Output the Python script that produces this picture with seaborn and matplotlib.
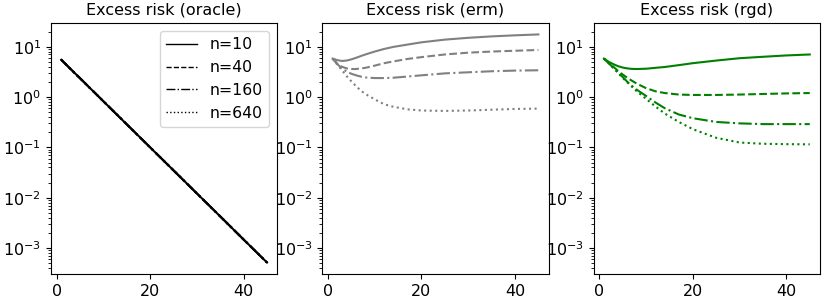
import numpy as np
import pandas as pd
import matplotlib
matplotlib.use("Agg")
import matplotlib.pyplot as plt
from matplotlib.lines import Line2D
import seaborn as sns

steps = [1, 2, 3, 4, 5, 6, 7, 8, 10, 12, 14, 17, 20, 25, 30, 35, 40, 45]
sample_sizes = ["n=10", "n=40", "n=160", "n=640"]
methods = ["oracle", "erm", "rgd"]

oracle_curve = [5.5, 4.45, 3.6, 2.92, 2.37, 1.92, 1.55, 1.26, 0.825, 0.541, 0.355,
                0.189, 0.1003, 0.035, 0.0122, 0.00426, 0.00148, 0.000518]

erm_n10 = [5.8, 5.4, 5.2, 5.3, 5.6, 6.0, 6.5, 7.0, 8.0, 9.0, 9.9, 11.0, 12.2, 13.8, 15.0, 16.0, 16.8, 17.5]
erm_n40 = [5.8, 4.6, 4.0, 3.7, 3.6, 3.6, 3.7, 3.8, 4.2, 4.7, 5.1, 5.7, 6.2, 7.0, 7.6, 8.0, 8.3, 8.6]
erm_n160 = [5.8, 4.5, 3.7, 3.2, 2.9, 2.7, 2.55, 2.45, 2.38, 2.38, 2.42, 2.55, 2.7, 2.95, 3.1, 3.25, 3.35, 3.4]
erm_n640 = [5.8, 4.4, 3.4, 2.6, 2.05, 1.65, 1.35, 1.15, 0.9, 0.72, 0.64, 0.57, 0.54, 0.53, 0.54, 0.56, 0.58, 0.59]

rgd_n10 = [5.8, 5.0, 4.5, 4.1, 3.85, 3.7, 3.62, 3.6, 3.65, 3.8, 3.95, 4.3, 4.7, 5.3, 5.9, 6.3, 6.7, 7.0]
rgd_n40 = [5.8, 4.8, 4.0, 3.3, 2.8, 2.4, 2.1, 1.85, 1.5, 1.3, 1.2, 1.12, 1.1, 1.1, 1.12, 1.15, 1.18, 1.2]
rgd_n160 = [5.8, 4.7, 3.8, 3.1, 2.5, 2.0, 1.65, 1.4, 1.05, 0.78, 0.6, 0.45, 0.38, 0.32, 0.30, 0.29, 0.29, 0.29]
rgd_n640 = [5.8, 4.7, 3.8, 3.0, 2.4, 1.95, 1.6, 1.3, 0.92, 0.65, 0.47, 0.32, 0.23, 0.155, 0.125, 0.118, 0.116, 0.115]

series = {
    "oracle": [oracle_curve, oracle_curve, oracle_curve, oracle_curve],
    "erm": [erm_n10, erm_n40, erm_n160, erm_n640],
    "rgd": [rgd_n10, rgd_n40, rgd_n160, rgd_n640],
}
colors = {"oracle": "black", "erm": "gray", "rgd": "green"}
linestyles = ["-", "--", "-.", ":"]

fig, axes = plt.subplots(1, 3, figsize=(8.3, 3.03), dpi=100, sharey=True)
fig.subplots_adjust(left=0.0614, right=0.988, bottom=0.096, top=0.924, wspace=0.199)

for ax, m in zip(axes, methods):
    for label, vals, ls in zip(sample_sizes, series[m], linestyles):
        df = pd.DataFrame({"step": steps, "risk": vals})
        sns.lineplot(data=df, x="step", y="risk", ax=ax, color=colors[m],
                     linestyle=ls, linewidth=1.5, legend=False)
    ax.set_yscale("log")
    ax.set_title(f"Excess risk ({m})", fontsize=11.5)
    ax.set_xlabel("")
    ax.set_ylabel("")
    ax.set_xticks([0, 20, 40])
    ax.tick_params(axis="both", labelsize=11.5, labelleft=True)

handles = [Line2D([], [], color="black", linestyle=ls, linewidth=1.0) for ls in linestyles]
axes[0].legend(handles, sample_sizes, loc="upper right", fontsize=11.3)

fig.savefig("out.png", dpi=100)
